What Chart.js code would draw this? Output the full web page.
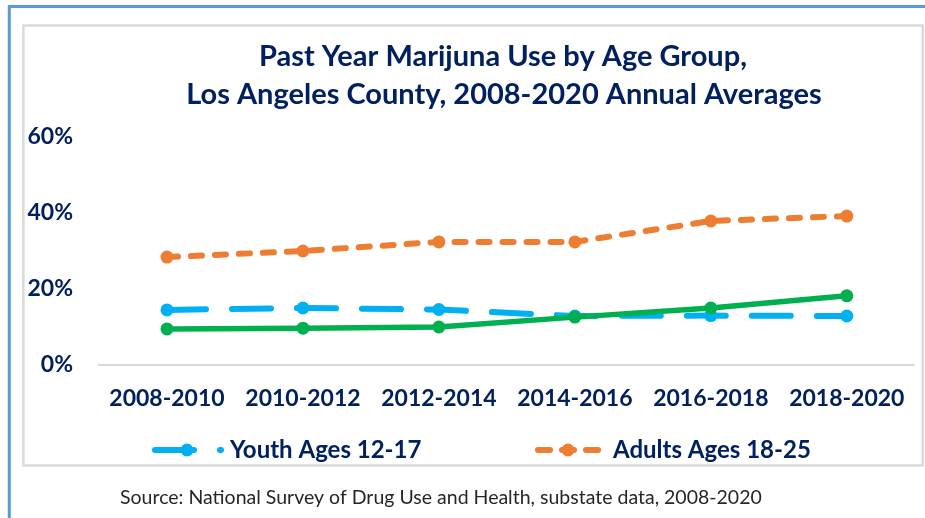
<!DOCTYPE html>
<html>
<head>
<meta charset="utf-8">
<script src="https://cdn.jsdelivr.net/npm/chart.js@4"></script>
<style>
html,body{margin:0;padding:0;background:#fff;}
#wrap{position:relative;width:925px;height:518px;}
canvas{display:block;}
</style>
</head>
<body>
<div id="wrap"><canvas id="c" width="925" height="518"></canvas></div>
<script>
const categories = ["2008-2010","2010-2012","2012-2014","2014-2016","2016-2018","2018-2020"];
const youth  = [14.5, 15.0, 14.6, 12.9, 13.0, 12.9];
const adults = [28.4, 30.0, 32.4, 32.4, 37.9, 39.2];
const series3 = [9.5, 9.7, 10.0, 12.6, 15.0, 18.2];
const titleLines = ["Past Year Marijuna Use by Age Group,", "Los Angeles County, 2008-2020 Annual Averages"];
const sourceText = "Source: National Survey of Drug Use and Health, substate data, 2008-2020";
const yTicks = [0, 20, 40, 60];

const NAVY = "#002060";
const BLUE = "#00B0F0";
const ORANGE = "#ED7D31";
const GREEN = "#00B050";
const FONT = "Lato, Carlito, Calibri, sans-serif";

function fitText(ctx, text, font, targetW) {
  ctx.font = font;
  return ctx.measureText(text).width;
}

const framePlugin = {
  id: 'frame',
  beforeDraw(chart) {
    const ctx = chart.ctx;
    ctx.save();
    ctx.fillStyle = '#fff';
    ctx.fillRect(0, 0, chart.width, chart.height);
    ctx.strokeStyle = '#5B9BD5';
    ctx.lineWidth = 3;
    ctx.beginPath();
    ctx.moveTo(9.3, 518);
    ctx.lineTo(9.3, 6.6);
    ctx.lineTo(925, 6.6);
    ctx.stroke();
    ctx.strokeStyle = '#D9D9D9';
    ctx.lineWidth = 2.4;
    ctx.strokeRect(23.4, 25.5, 922.7 - 23.4, 465.5 - 25.5);
    ctx.restore();
  },
  afterDraw(chart) {
    const ctx = chart.ctx;
    ctx.save();
    // title
    ctx.fillStyle = NAVY;
    ctx.font = "bold 29px " + FONT;
    ctx.textAlign = 'center';
    ctx.textBaseline = 'middle';
    ctx.fillText(titleLines[0], 503, 57);
    ctx.fillText(titleLines[1], 504, 95);
    // legend
    const items = [
      {ds: chart.data.datasets[0], x0: 155, x1: 221, mx: 187, dash: [39, 26], tx: 230},
      {ds: chart.data.datasets[1], x0: 538, x1: 598, mx: 568, dash: [12, 12], tx: 613}
    ];
    const ly = 450;
    items.forEach(it => {
      ctx.strokeStyle = it.ds.borderColor;
      ctx.lineWidth = 6;
      ctx.lineCap = 'round';
      ctx.setLineDash(it.dash);
      ctx.beginPath();
      ctx.moveTo(it.x0, ly);
      ctx.lineTo(it.x1, ly);
      ctx.stroke();
      ctx.setLineDash([]);
      ctx.fillStyle = it.ds.borderColor;
      ctx.beginPath();
      ctx.arc(it.mx, ly, 6.5, 0, Math.PI * 2);
      ctx.fill();
      ctx.fillStyle = NAVY;
      ctx.font = "bold 24px " + FONT;
      ctx.textAlign = 'left';
      ctx.textBaseline = 'middle';
      ctx.fillText(it.ds.label, it.tx, ly);
    });
    // source
    ctx.fillStyle = '#262626';
    ctx.font = "19.5px " + FONT;
    ctx.textAlign = 'left';
    ctx.textBaseline = 'middle';
    ctx.fillText(sourceText, 120, 498);
    ctx.restore();
  }
};

new Chart(document.getElementById('c'), {
  type: 'line',
  data: {
    labels: categories,
    datasets: [
      {label: "Youth Ages 12-17", data: youth, borderColor: BLUE, backgroundColor: BLUE,
       borderWidth: 6, borderDash: [39, 26], borderCapStyle: 'round', pointRadius: 6.5,
       pointBackgroundColor: BLUE, pointBorderWidth: 0, order: 2},
      {label: "Adults Ages 18-25", data: adults, borderColor: ORANGE, backgroundColor: ORANGE,
       borderWidth: 6, borderDash: [11, 13], borderCapStyle: 'round', pointRadius: 6.5,
       pointBackgroundColor: ORANGE, pointBorderWidth: 0, order: 1},
      {label: "Series 3", data: series3, borderColor: GREEN, backgroundColor: GREEN,
       borderWidth: 5.5, pointRadius: 6.5, pointBackgroundColor: GREEN, pointBorderWidth: 0, order: 0}
    ]
  },
  options: {
    responsive: false,
    animation: false,
    devicePixelRatio: 1,
    layout: {padding: {left: 0, right: 5, top: 137, bottom: 108}},
    plugins: {legend: {display: false}, title: {display: false}, tooltip: {enabled: false}},
    elements: {line: {tension: 0}},
    scales: {
      x: {
        offset: true,
        grid: {display: false, drawTicks: false},
        border: {display: true, color: '#D9D9D9', width: 2},
        ticks: {color: NAVY, font: {family: FONT, size: 23, weight: 'bold'}, padding: 20, maxRotation: 0, autoSkip: false},
        afterFit(s) { s.height = 45; }
      },
      y: {
        min: 0, max: 60,
        grid: {display: false, drawTicks: false},
        border: {display: false},
        afterBuildTicks(s) { s.ticks = yTicks.map(v => ({value: v})); },
        ticks: {color: NAVY, font: {family: FONT, size: 23, weight: 'bold'}, padding: 26,
                callback: v => v + '%'},
        afterFit(s) { s.width = 99; }
      }
    }
  },
  plugins: [framePlugin]
});
</script>
</body>
</html>
